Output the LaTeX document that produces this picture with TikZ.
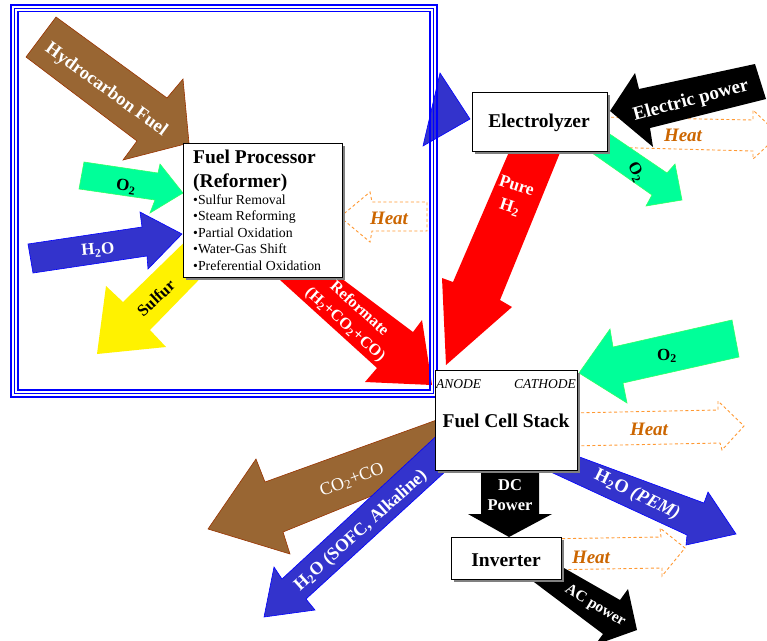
\documentclass[tikz,border=0pt]{standalone}
\usepackage{fontspec}
\setmainfont{Liberation Serif}
\usetikzlibrary{shadows}
\definecolor{brownc}{HTML}{996633}
\definecolor{brownedge}{HTML}{993300}
\definecolor{greenc}{HTML}{00FF99}
\definecolor{greenedge}{HTML}{33FF66}
\definecolor{bluec}{HTML}{3333CC}
\definecolor{blueedge}{HTML}{0000FF}
\definecolor{heatc}{HTML}{FF9933}
\definecolor{heattext}{HTML}{CC6600}
\definecolor{framec}{HTML}{0000FF}
\definecolor{shadowc}{HTML}{808080}
\newcommand\myfs[2]{\fontsize{#1}{#2}\selectfont}
\begin{document}
\begin{tikzpicture}[x=1pt,y=-1pt,
  brownarrow/.style={fill=brownc,draw=brownedge,line width=0.6pt},
  greenarrow/.style={fill=greenc,draw=greenedge,line width=0.6pt},
  bluearrow/.style={fill=bluec,draw=blueedge,line width=0.6pt},
  yellowarrow/.style={fill=yellow},
  redarrow/.style={fill=red},
  blackarrow/.style={fill=black},
  heatarrow/.style={draw=heatc,dash pattern=on 3pt off 2.5pt,line width=0.9pt},
  heatlabel/.style={text=heattext,inner sep=0pt,font=\myfs{19}{22}\bfseries\itshape},
  wlabel/.style={text=white,inner sep=0pt,align=center,font=\myfs{#1}{#1}\bfseries},
  klabel/.style={text=black,inner sep=0pt,align=center,font=\myfs{#1}{#1}\bfseries},
  framebox/.style={draw=framec,line width=1.1pt},
  procbox/.style={draw=black,fill=white,line width=0.9pt,inner sep=0pt,
    drop shadow={shadow xshift=3pt,shadow yshift=-3pt,fill=shadowc,opacity=1}},
  titletext/.style={inner sep=0pt,font=\myfs{19.5}{23}\bfseries},
  bullettext/.style={inner sep=0pt,anchor=base west,font=\myfs{13.8}{16}}
]
\useasboundingbox (0,0) rectangle (767,640);
\fill[white] (0,0) rectangle (767,640);

% heat arrows (dashed outlines)
\draw[heatarrow] (340,217) -- (370,192) -- (372,202) -- (427,202) -- (427,231) -- (372,231) -- (370,242) -- cycle;
\draw[heatarrow] (600,117) -- (753,120) -- (753,110) -- (779,135) -- (753,159) -- (753,151) -- (600,147) -- cycle;
\draw[heatarrow] (570,413) -- (718,410) -- (718,401) -- (744,426) -- (722,450) -- (720,443) -- (570,446) -- cycle;
\draw[heatarrow] (540,539) -- (661,537) -- (660,528) -- (685,548) -- (662,576) -- (662,568) -- (540,570) -- cycle;

% fuel processor arrows
\filldraw[brownarrow] (56,17) -- (167,98) -- (183,79) -- (189,143) -- (123,160) -- (137,141) -- (26,57) -- cycle;
\filldraw[greenarrow] (84,162) -- (158,173) -- (160,164) -- (183,193) -- (150,213) -- (155,200) -- (79,189) -- cycle;
\fill[yellowarrow] (200,227) -- (123,302) -- (106,286) -- (97,354) -- (166,347) -- (150,330) -- (225,253) -- cycle;
\filldraw[bluearrow] (28,244) -- (142,227) -- (140,212) -- (182,234) -- (148,269) -- (147,256) -- (33,273) -- cycle;
\fill[redarrow] (317,260) -- (413,332) -- (422,320) -- (432,385) -- (365,382) -- (377,368) -- (258,260) -- cycle;
\filldraw[bluearrow] (440,73) -- (470,119) -- (423,146) -- cycle;

% frame
\draw[framebox,line width=1.6pt] (11,5) rectangle (437,397);
\draw[framebox] (14.5,8.3) rectangle (433.5,393.6);
\draw[framebox] (18,11.7) rectangle (430,390);

% electrolyzer arrows
\fill[redarrow] (515,138) -- (453,282) -- (442,278) -- (446,365) -- (512,307) -- (500,300) -- (566,138) -- cycle;
\filldraw[greenarrow] (595,124) -- (667,173) -- (675,164) -- (682,200) -- (646,206) -- (652,195) -- (575,141) -- cycle;
\fill[blackarrow] (755,64) -- (639,89) -- (635,73) -- (610,111) -- (653,147) -- (650,128) -- (766,99) -- cycle;

% fuel cell arrows
\filldraw[greenarrow] (732,320) -- (613,347) -- (610,329) -- (579,373) -- (627,403) -- (623,383) -- (739,357) -- cycle;
\filldraw[brownarrow] (445,417) -- (265,482) -- (256,459) -- (208,529) -- (290,554) -- (283,532) -- (455,462) -- cycle;
\filldraw[bluearrow] (444,429) -- (282,579) -- (274,567) -- (264,617) -- (315,610) -- (306,599) -- (447,470) -- cycle;
\filldraw[bluearrow] (558,449) -- (704,503) -- (708,492) -- (736,534) -- (686,545) -- (687,535) -- (540,467) -- cycle;
\fill[blackarrow] (481,465) -- (539,465) -- (539,514) -- (552,514) -- (509,537) -- (468,514) -- (481,514) -- cycle;
\fill[blackarrow] (550,560) -- (620,600) -- (628,589) -- (637,630) -- (595,645) -- (603,634) -- (522,573) -- cycle;

% boxes
\node[procbox,minimum width=159pt,minimum height=134pt] (fp) at (262.5,210) {};
\node[procbox,minimum width=135pt,minimum height=59pt] (el) at (539.5,121.5) {};
\node[procbox,minimum width=142pt,minimum height=100pt] (fcs) at (506,420) {};
\node[procbox,minimum width=110pt,minimum height=42pt] (inv) at (506,558) {};

% box texts
\node[titletext,anchor=base west] (fpt1) at (193,163) {Fuel Processor};
\node[titletext,anchor=base west] (fpt2) at (193,187) {(Reformer)};
\node[bullettext] (b1) at (193,204) {•Sulfur Removal};
\node[bullettext] (b2) at (193,220) {•Steam Reforming};
\node[bullettext] (b3) at (193,237) {•Partial Oxidation};
\node[bullettext] (b4) at (193,253) {•Water-Gas Shift};
\node[bullettext] (b5) at (193,270) {•Preferential Oxidation};
\node[titletext] (elt) at (539,123) {Electrolyzer};
\node[titletext] (fcst) at (506,421) {Fuel Cell Stack};
\node[inner sep=0pt,anchor=base west,font=\myfs{13.5}{16}\itshape] (an) at (436,388) {ANODE};
\node[inner sep=0pt,anchor=base east,font=\myfs{13.5}{16}\itshape] (ca) at (576,388) {CATHODE};
\node[titletext] (invt) at (506,560) {Inverter};

% arrow labels
\node[wlabel=18.5,rotate=-36] (lhc) at (106,90) {Hydrocarbon Fuel};
\node[klabel=17,rotate=-8] (lo2a) at (126,187) {O\textsubscript{2}};
\node[wlabel=17,rotate=5] (lh2oa) at (98,250) {H\textsubscript{2}O};
\node[klabel=16.5,rotate=43] (ls) at (156,298) {Sulfur};
\node[wlabel=16,rotate=-42,font=\myfs{16}{21}\bfseries] (lref) at (352,317) {Reformate\\(H\textsubscript{2}+CO\textsubscript{2}+CO)};
\node[heatlabel] (hp) at (389,218) {Heat};
\node[wlabel=17.5,rotate=-18,font=\myfs{17.5}{22}\bfseries] (lph) at (513,197) {Pure\\H\textsubscript{2}};
\node[klabel=17,rotate=-62] (lo2e) at (636,172) {O\textsubscript{2}};
\node[wlabel=19,rotate=15] (lep) at (691,101) {Electric power};
\node[heatlabel] (he) at (683,135) {Heat};
\node[klabel=17] (lo2c) at (667,356) {O\textsubscript{2}};
\node[heatlabel] (hf) at (649,429) {Heat};
\node[wlabel=18,rotate=21,font=\myfs{18}{18}] (lco) at (352,480) {CO\textsubscript{2}+CO};
\node[wlabel=17.8,rotate=42] (lsofc) at (361,531) {H\textsubscript{2}O (SOFC, Alkaline)};
\node[wlabel=18.5,rotate=-26] (lpem) at (637,495) {H\textsubscript{2}O \textit{(PEM)}};
\node[wlabel=16.5,font=\myfs{16.5}{20}\bfseries] (ldc) at (510,495) {DC\\Power};
\node[heatlabel] (hi) at (591,557) {Heat};
\node[wlabel=15.5,rotate=-31] (lac) at (595,606) {AC power};
\end{tikzpicture}
\end{document}
